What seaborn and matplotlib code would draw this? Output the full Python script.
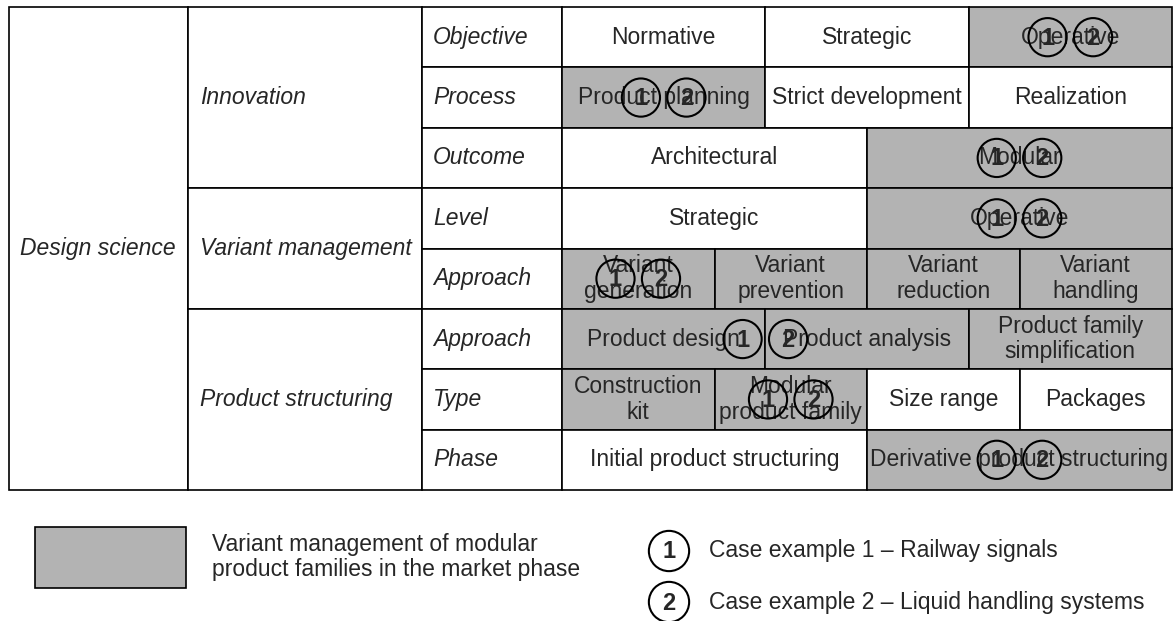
import matplotlib
matplotlib.use("Agg")
import matplotlib.pyplot as plt
from matplotlib.patches import Rectangle
import seaborn as sns
import pandas as pd

# morphological box: attribute rows and their characteristics
row_labels = ["Objective", "Process", "Outcome", "Level", "Approach", "Approach", "Type", "Phase"]
groups = ["Innovation", "Variant management", "Product structuring"]
group_rows = [3, 2, 3]
top_label = "Design science"

cells = [
    ["Normative", "Strategic", "Operative"],
    ["Product planning", "Strict development", "Realization"],
    ["Architectural", "Modular"],
    ["Strategic", "Operative"],
    ["Variant\ngeneration", "Variant\nprevention", "Variant\nreduction", "Variant\nhandling"],
    ["Product design", "Product analysis", "Product family\nsimplification"],
    ["Construction\nkit", "Modular\nproduct family", "Size range", "Packages"],
    ["Initial product structuring", "Derivative product structuring"],
]
shaded = [
    [0, 0, 1],
    [1, 0, 0],
    [0, 1],
    [0, 1],
    [1, 1, 1, 1],
    [1, 1, 1],
    [1, 1, 0, 0],
    [0, 1],
]
# where the case-example markers sit, in cell units along each row
case_pos = [2.5, 0.5, 1.5, 1.5, 0.5, 1.0, 1.5, 1.5]
cases = ["1", "2"]
case_texts = ["Case example 1 \u2013 Railway signals", "Case example 2 \u2013 Liquid handling systems"]
legend_text = "Variant management of modular\nproduct families in the market phase"

sns.set_theme(style="white")
plt.rcParams["font.family"] = ["Liberation Sans", "DejaVu Sans"]
grey = "#b3b3b3"
fs = 16.5
lw = 1.2

fig = plt.figure(figsize=(11.73, 6.21), dpi=100)
ax = fig.add_axes([0, 0, 1, 1])
ax.set_xlim(0, 1173)
ax.set_ylim(621, 0)
ax.axis("off")

x0, x1, x2, x3, x4 = 9, 188, 422, 562, 1172
y_top, y_bot = 7, 490
rh = (y_bot - y_top) / len(row_labels)

# left header columns
ax.add_patch(Rectangle((x0, y_top), x1 - x0, y_bot - y_top, fc="white", ec="black", lw=lw))
ax.text(x0 + 11, (y_top + y_bot) / 2, top_label, style="italic", fontsize=fs, va="center")
r = 0
for g, n in zip(groups, group_rows):
    ya = y_top + r * rh
    ax.add_patch(Rectangle((x1, ya), x2 - x1, n * rh, fc="white", ec="black", lw=lw))
    ax.text(x1 + 12, ya + n * rh / 2, g, style="italic", fontsize=fs, va="center")
    r += n

marks = []
for i, lab in enumerate(row_labels):
    ya = y_top + i * rh
    ax.add_patch(Rectangle((x2, ya), x3 - x2, rh, fc="white", ec="black", lw=lw))
    ax.text(x2 + 11, ya + rh / 2, lab, style="italic", fontsize=fs, va="center")
    w = (x4 - x3) / len(cells[i])
    for j, (c, s) in enumerate(zip(cells[i], shaded[i])):
        xa = x3 + j * w
        ax.add_patch(Rectangle((xa, ya), w, rh, fc=grey if s else "white", ec="black", lw=lw))
        ax.text(xa + w / 2, ya + rh / 2, c, fontsize=fs, ha="center", va="center",
                linespacing=1.15)
    xc = x3 + case_pos[i] * w
    for k, cs in enumerate(cases):
        marks.append({"x": xc + (k - 0.5) * 45.5, "y": ya + rh / 2, "case": cs})

marks = pd.DataFrame(marks)
sns.scatterplot(data=marks, x="x", y="y", ax=ax, s=27.5 ** 2, marker="o",
                facecolor="none", edgecolor="black", linewidth=1.5, zorder=5, legend=False)
for _, m in marks.iterrows():
    ax.text(m["x"], m["y"] + 1, m["case"], fontsize=17, fontweight="bold",
            ha="center", va="center", zorder=6)

# legend
ax.add_patch(Rectangle((35, 527), 151, 61, fc=grey, ec="black", lw=lw))
ax.text(212, 557, legend_text, fontsize=fs, va="center", linespacing=1.15)
leg = pd.DataFrame({"x": [669, 669], "y": [551, 602], "case": cases})
sns.scatterplot(data=leg, x="x", y="y", ax=ax, s=29 ** 2, marker="o",
                facecolor="none", edgecolor="black", linewidth=1.5, zorder=5, legend=False)
for (_, m), t in zip(leg.iterrows(), case_texts):
    ax.text(m["x"], m["y"] + 1, m["case"], fontsize=17, fontweight="bold",
            ha="center", va="center")
    ax.text(709, m["y"], t, fontsize=fs, va="center")

fig.savefig("out.png", dpi=100)
